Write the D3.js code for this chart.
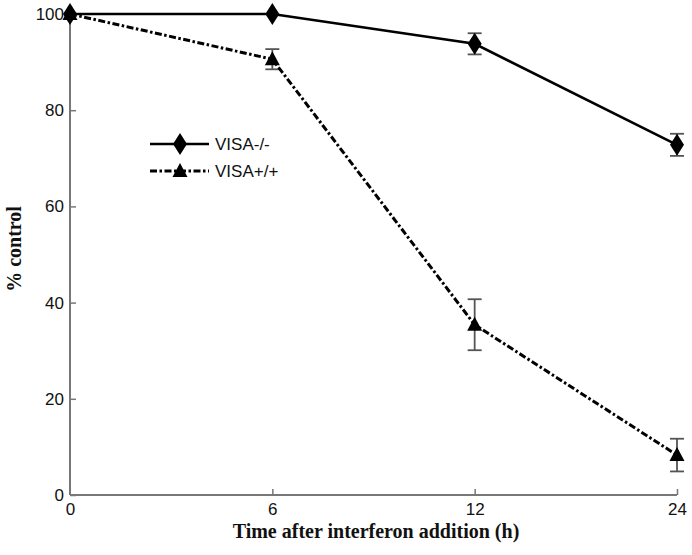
<!DOCTYPE html>
<html><head><meta charset="utf-8">
<script src="https://cdn.jsdelivr.net/npm/d3@7"></script>
<style>body{margin:0;background:#fff;}svg{display:block;}</style>
</head><body>
<script>
const timeLabels = ["0", "6", "12", "24"];
const seriesNames = ["VISA-/-", "VISA+/+"];
const visaKO = [100, 100, 93.8, 72.8];
const visaKOErr = [0, 0, 2.2, 2.3];
const visaWT = [100, 90.6, 35.4, 8.3];
const visaWTErr = [0, 2.1, 5.3, 3.4];
const yTicks = [0, 20, 40, 60, 80, 100];

const W = 692, H = 555;
const svg = d3.select("body").append("svg").attr("width", W).attr("height", H);
const x = d3.scalePoint().domain(timeLabels).range([70, 677]);
const y = d3.scaleLinear().domain([0, 100]).range([495, 14]);
const axisColor = "#777";

// axes
const yAxis = svg.append("g").attr("transform", "translate(70,0)")
  .call(d3.axisRight(y).tickValues(yTicks).tickSize(6).tickFormat(d3.format("d")));
yAxis.select(".domain").attr("stroke", axisColor).attr("stroke-width", 2).attr("d", `M0,${y(0)}V${y(100)}`);
yAxis.selectAll(".tick line").attr("stroke", axisColor).attr("stroke-width", 1.5);
yAxis.selectAll(".tick text").attr("x", -6).attr("text-anchor", "end")
  .attr("font-family", "Liberation Sans, Arial, sans-serif").attr("font-size", 17).attr("fill", "#111");

const xAxis = svg.append("g").attr("transform", `translate(0,${y(0)})`)
  .call(d3.axisTop(x).tickSize(6));
xAxis.select(".domain").attr("stroke", axisColor).attr("stroke-width", 2).attr("d", `M70,0H677`);
xAxis.selectAll(".tick line").attr("stroke", axisColor).attr("stroke-width", 1.5);
xAxis.selectAll(".tick text").attr("y", 20).attr("dy", 0)
  .attr("font-family", "Liberation Sans, Arial, sans-serif").attr("font-size", 17).attr("fill", "#111");
xAxis.selectAll(".tick").filter(d => d === "0").select("line").remove();

// axis labels
svg.append("text").attr("x", 376).attr("y", 538).attr("text-anchor", "middle")
  .attr("font-family", "Liberation Serif, Times New Roman, serif").attr("font-weight", "bold")
  .attr("font-size", 20).attr("fill", "#111").text("Time after interferon addition (h)");
svg.append("text").attr("transform", "translate(21,249) rotate(-90)").attr("text-anchor", "middle")
  .attr("font-family", "Liberation Serif, Times New Roman, serif").attr("font-weight", "bold")
  .attr("font-size", 20).attr("fill", "#111").text("% control");

const line = d3.line().x(d => x(d.t)).y(d => y(d.v));
const mk = (vals, errs) => timeLabels.map((t, i) => ({t, v: vals[i], e: errs[i]}));
const dKO = mk(visaKO, visaKOErr), dWT = mk(visaWT, visaWTErr);

function errorBars(data) {
  const g = svg.append("g").attr("stroke", "#555").attr("stroke-width", 1.8);
  data.filter(d => d.e > 0).forEach(d => {
    const cx = x(d.t), y1 = y(d.v + d.e), y2 = y(d.v - d.e);
    g.append("line").attr("x1", cx).attr("x2", cx).attr("y1", y1).attr("y2", y2);
    g.append("line").attr("x1", cx - 7).attr("x2", cx + 7).attr("y1", y1).attr("y2", y1);
    g.append("line").attr("x1", cx - 7).attr("x2", cx + 7).attr("y1", y2).attr("y2", y2);
  });
}
errorBars(dKO); errorBars(dWT);

const dash = "7,2.5,2.5,2.5";
svg.append("path").datum(dWT).attr("d", line).attr("fill", "none").attr("stroke", "#000")
  .attr("stroke-width", 3).attr("stroke-dasharray", dash);
svg.append("path").datum(dKO).attr("d", line).attr("fill", "none").attr("stroke", "#000").attr("stroke-width", 2.6);

const diamond = (cx, cy) => `M${cx},${cy-11}L${cx+7},${cy}L${cx},${cy+11}L${cx-7},${cy}Z`;
const triangle = (cx, cy) => `M${cx},${cy-8}L${cx+7.5},${cy+6}L${cx-7.5},${cy+6}Z`;
svg.append("g").selectAll("path").data(dWT).join("path").attr("d", d => triangle(x(d.t), y(d.v))).attr("fill", "#000");
svg.append("g").selectAll("path").data(dKO).join("path").attr("d", d => diamond(x(d.t), y(d.v))).attr("fill", "#000");

// legend
const lg = svg.append("g");
lg.append("line").attr("x1", 150).attr("x2", 209).attr("y1", 144).attr("y2", 144).attr("stroke", "#000").attr("stroke-width", 2.6);
lg.append("path").attr("d", diamond(180, 144)).attr("fill", "#000");
lg.append("line").attr("x1", 150).attr("x2", 209).attr("y1", 171).attr("y2", 171).attr("stroke", "#000").attr("stroke-width", 3).attr("stroke-dasharray", dash);
lg.append("path").attr("d", triangle(180, 171)).attr("fill", "#000");
lg.selectAll("text").data(seriesNames).join("text")
  .attr("x", 215).attr("y", (d, i) => 150 + i * 27)
  .attr("font-family", "Liberation Sans, Arial, sans-serif").attr("font-size", 17).attr("fill", "#111").text(d => d);
</script>
</body></html>
